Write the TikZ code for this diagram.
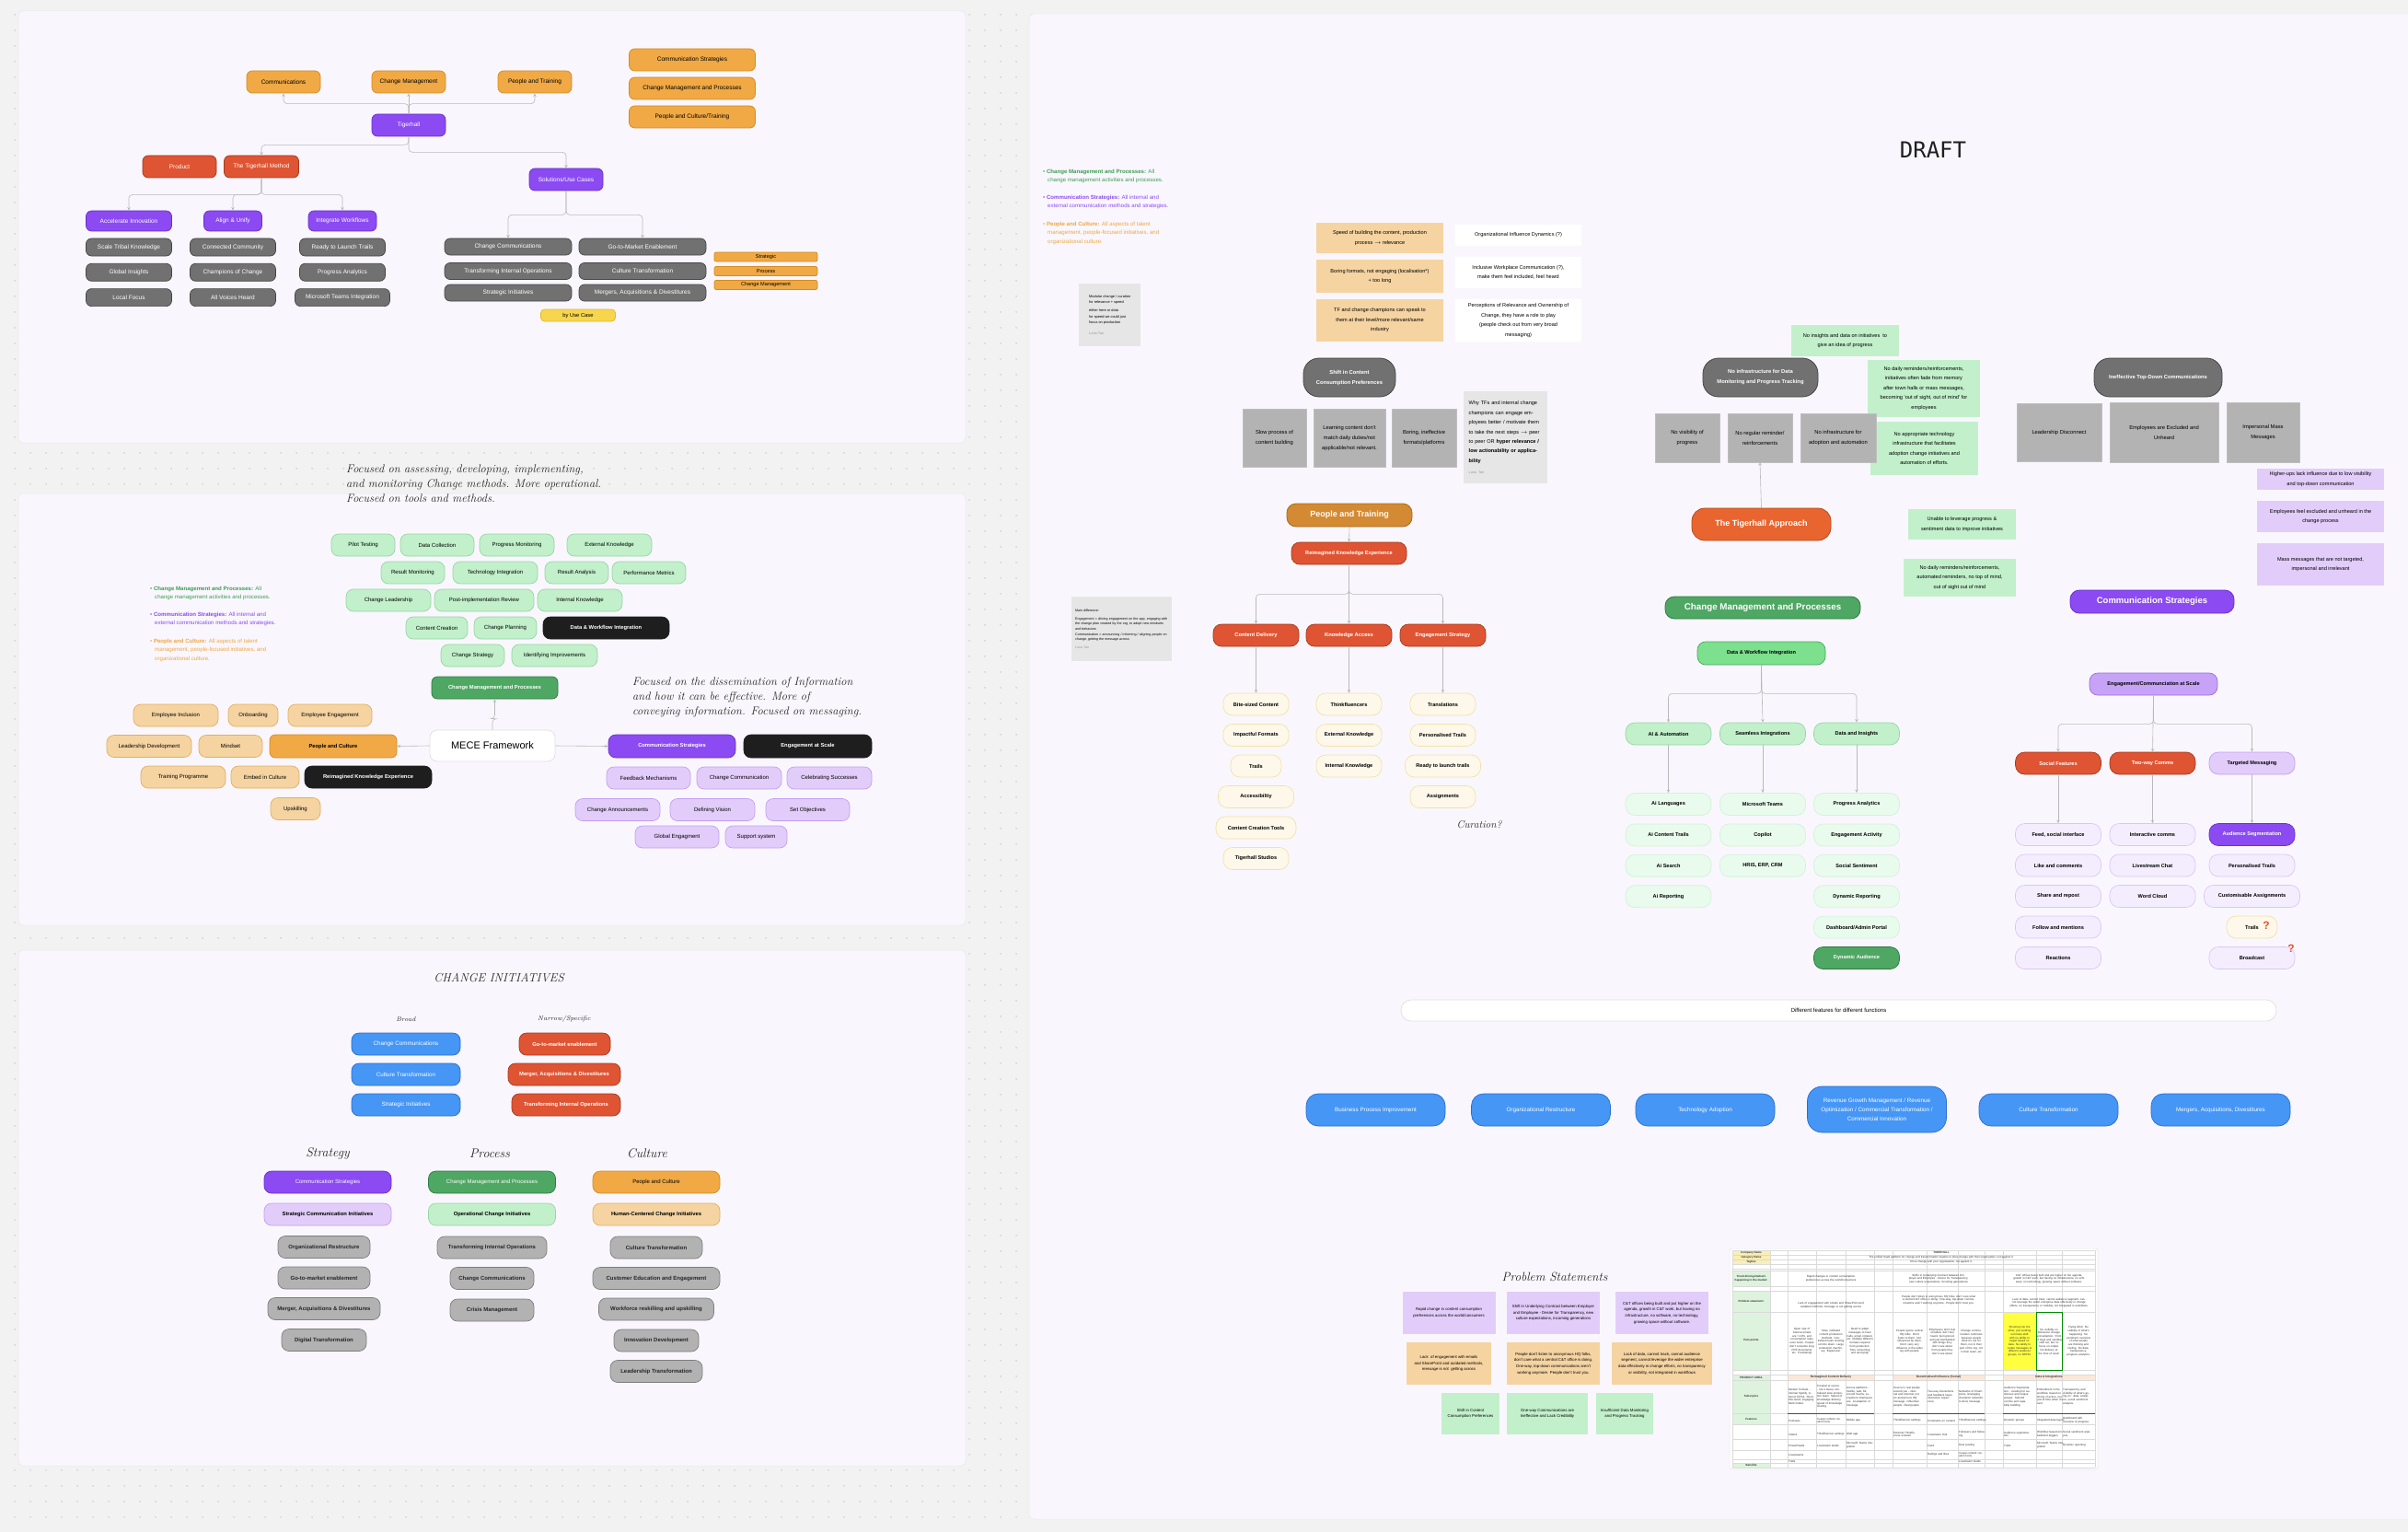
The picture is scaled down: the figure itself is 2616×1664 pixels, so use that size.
\documentclass[tikz,border=0pt]{standalone}
\usepackage{fontspec}
\setsansfont{Liberation Sans}
\setmonofont{DejaVu Sans Mono}
\renewcommand{\familydefault}{\sfdefault}
\usepackage{xcolor}
\usepackage{tikz}
\usetikzlibrary{arrows, positioning, patterns.meta}

\definecolor{bggray}{HTML}{F2F2F2}
\definecolor{dotgray}{HTML}{C2C2C2}
\definecolor{panelfill}{HTML}{F9F7FD}
\definecolor{panelline}{HTML}{EAE8EE}
\definecolor{orng}{HTML}{F0A944}
\definecolor{orngline}{HTML}{D58A22}
\definecolor{purp}{HTML}{8B4AF2}
\definecolor{purpline}{HTML}{6A2FCC}
\definecolor{redc}{HTML}{DF5432}
\definecolor{redline}{HTML}{A33A20}
\definecolor{darkg}{HTML}{717171}
\definecolor{darkgline}{HTML}{454545}
\definecolor{yell}{HTML}{F7D54C}
\definecolor{yellline}{HTML}{E2B833}
\definecolor{lgreen}{HTML}{C2F0CB}
\definecolor{lgreenline}{HTML}{96D6A4}
\definecolor{dgreen}{HTML}{4EA763}
\definecolor{dgreenline}{HTML}{2E7A43}
\definecolor{mgreen}{HTML}{7CE08F}
\definecolor{mgreenline}{HTML}{4BA45F}
\definecolor{pgreen}{HTML}{E9FBEC}
\definecolor{pgreenline}{HTML}{D3F2D9}
\definecolor{blackc}{HTML}{1E1E1E}
\definecolor{lorng}{HTML}{F5D4A2}
\definecolor{lorngline}{HTML}{E2AE60}
\definecolor{lpurp}{HTML}{E2CDFA}
\definecolor{lpurpline}{HTML}{C49DF4}
\definecolor{mpurp}{HTML}{C7A3F7}
\definecolor{mpurpline}{HTML}{9B6AE9}
\definecolor{ppurp}{HTML}{F4EDFE}
\definecolor{ppurpline}{HTML}{DCC6F8}
\definecolor{bluec}{HTML}{4596F5}
\definecolor{blueline}{HTML}{2B6CD1}
\definecolor{lgray}{HTML}{B2B2B2}
\definecolor{lgrayline}{HTML}{7E7E7E}
\definecolor{cream}{HTML}{FDF8EA}
\definecolor{creamline}{HTML}{F2E2A8}
\definecolor{brownor}{HTML}{D38A33}
\definecolor{brownline}{HTML}{A66A1E}
\definecolor{apprc}{HTML}{E8652F}
\definecolor{apprline}{HTML}{B74A1D}
\definecolor{notegray}{HTML}{E6E6E6}
\definecolor{sqgray}{HTML}{B3B3B3}
\definecolor{linkgray}{HTML}{B9B9B9}
\definecolor{txtgreen}{HTML}{3E9B53}
\definecolor{txtpurp}{HTML}{8B4AF2}
\definecolor{txtorng}{HTML}{EFA63E}
\definecolor{qred}{HTML}{E5502B}
\definecolor{tblline}{HTML}{DADADA}
\definecolor{tblgreen}{HTML}{DDF3DD}
\definecolor{tblyell}{HTML}{FBEEB5}
\definecolor{tblpeach}{HTML}{FCE7D6}
\definecolor{hiyell}{HTML}{FFFF40}

\newcommand{\handfont}{\rmfamily\itshape}

\tikzstyle{chip} = [rectangle, rounded corners=6pt, draw, line width=0.7pt, align=center, minimum height=24pt, inner sep=1pt, font=\fontsize{6.5}{8}\selectfont]
\tikzstyle{orangechip} = [chip, fill=orng, draw=orngline]
\tikzstyle{purplechip} = [chip, fill=purp, draw=purpline, text=white]
\tikzstyle{redchip} = [chip, fill=redc, draw=redline, text=white]
\tikzstyle{graychip} = [chip, fill=darkg, draw=darkgline, text=white, minimum height=19pt]
\tikzstyle{greenchip} = [chip, fill=lgreen, draw=lgreenline, rounded corners=8pt, font=\fontsize{6}{7.5}\selectfont]
\tikzstyle{darkgreenchip} = [chip, fill=dgreen, draw=dgreenline, text=white]
\tikzstyle{blackchip} = [chip, fill=blackc, draw=blackc, text=white, rounded corners=8pt, font=\bfseries\fontsize{5.8}{7}\selectfont]
\tikzstyle{peachchip} = [chip, fill=lorng, draw=lorngline, rounded corners=8pt, font=\fontsize{6}{7.5}\selectfont]
\tikzstyle{lilacchip} = [chip, fill=lpurp, draw=lpurpline, rounded corners=8pt, font=\fontsize{6}{7.5}\selectfont]
\tikzstyle{bluechip} = [chip, fill=bluec, draw=blueline, text=white, rounded corners=8pt]
\tikzstyle{silverchip} = [chip, fill=lgray, draw=lgrayline, rounded corners=8pt, font=\bfseries\fontsize{6}{7.5}\selectfont, text=black!85]
\tikzstyle{pill} = [chip, rounded corners=10pt, font=\bfseries\fontsize{5.6}{7}\selectfont, minimum width=93pt]
\tikzstyle{creampill} = [pill, fill=cream, draw=creamline, minimum width=71pt]
\tikzstyle{mintpill} = [pill, fill=pgreen, draw=pgreenline]
\tikzstyle{lilacpill} = [pill, fill=ppurp, draw=ppurpline]
\tikzstyle{problem} = [rectangle, rounded corners=17pt, draw=darkgline, fill=darkg, line width=0.8pt, text=white, align=center, minimum height=42pt, font=\bfseries\fontsize{5.8}{11}\selectfont]
\tikzstyle{cause} = [rectangle, fill=sqgray, draw=sqgray!85!white, align=center, minimum height=63pt, font=\fontsize{5.8}{11}\selectfont, inner sep=2pt]
\tikzstyle{sticky} = [rectangle, inner sep=2pt, align=center, font=\fontsize{5.6}{10.5}\selectfont]
\tikzstyle{memo} = [rectangle, fill=notegray, anchor=north west, align=left, inner sep=4pt]
\tikzstyle{headline} = [rectangle, draw, line width=0.8pt, rounded corners=10pt, text=white, align=center, minimum height=25pt, font=\bfseries\fontsize{9.5}{11}\selectfont]
\tikzstyle{statement} = [rectangle, align=center, inner sep=2pt, font=\fontsize{4.3}{6.6}\selectfont]
\tikzstyle{scribble} = [inner sep=0pt, align=left, text=black!85]
\tikzstyle{legend} = [anchor=north west, align=left, inner sep=0pt, font=\fontsize{6.1}{9.7}\selectfont]
\tikzstyle{cell} = [inner sep=0pt, align=center, font=\fontsize{3}{3.7}\selectfont, text=black!80]
\tikzstyle{link} = [->, >=stealth, draw=linkgray, line width=0.6pt, rounded corners=4pt]

\begin{document}
\begin{tikzpicture}[x=1pt, y=-1pt]
\useasboundingbox (0,0) rectangle (2616,1664);
% canvas with dot grid
\fill[bggray] (0,0) rectangle (2616,1664);
\fill[pattern={Dots[distance=17pt, radius=0.8pt]}, pattern color=dotgray] (0,0) rectangle (2616,1664);
\filldraw[fill=panelfill, draw=panelline, line width=0.5pt, rounded corners=5pt] (20,12) rectangle (1049,481);
\filldraw[fill=panelfill, draw=panelline, line width=0.5pt, rounded corners=5pt] (20,536) rectangle (1049,1005);
\filldraw[fill=panelfill, draw=panelline, line width=0.5pt, rounded corners=5pt] (20,1032) rectangle (1049,1592);
\filldraw[fill=panelfill, draw=panelline, line width=0.5pt, rounded corners=5pt] (1118,15) rectangle (2640,1650);

% ---------- Tigerhall tree ----------
\node[orangechip, minimum width=80] (comms) at (308,89) {Communications};
\node[orangechip, minimum width=80] (changemgmt) at (444,89) {Change Management};
\node[orangechip, minimum width=80] (peopletraining) at (581,89) {People and Training};
\node[orangechip, minimum width=137] (keycomm) at (752,65) {Communication Strategies};
\node[orangechip, minimum width=137] (keycmp) at (752,96) {Change Management and Processes};
\node[orangechip, minimum width=137] (keypct) at (752,127) {People and Culture/Training};
\node[purplechip, minimum width=80] (tigerhall) at (444,136) {Tigerhall};
\node[redchip, minimum width=80] (product) at (195,181) {Product};
\node[redchip, minimum width=81] (method) at (284,181) {The Tigerhall Method};
\node[purplechip, minimum width=80] (usecases) at (615,195) {Solutions/Use Cases};
\node[purplechip, minimum width=93, minimum height=22] (accel) at (140,240) {Accelerate Innovation};
\node[purplechip, minimum width=63, minimum height=22] (alignunify) at (253,240) {Align \& Unify};
\node[purplechip, minimum width=74, minimum height=22] (integrate) at (372,240) {Integrate Workflows};

\foreach \t [count=\i] in {Scale Tribal Knowledge, Global Insights, Local Focus}
  \node[graychip, minimum width=93] (accel\i) at (140,{268.5+27.3*(\i-1)}) {\t};
\foreach \t [count=\i] in {Connected Community, Champions of Change, All Voices Heard}
  \node[graychip, minimum width=93] (unify\i) at (253,{268.5+27.3*(\i-1)}) {\t};
\node[graychip, minimum width=93] (launchtrails) at (372,268.5) {Ready to Launch Trails};
\node[graychip, minimum width=93] (progress) at (372,295.8) {Progress Analytics};
\node[graychip, minimum width=103] (msteams) at (372,323.1) {Microsoft Teams Integration};

\node[graychip, minimum width=138, minimum height=18] (ucchange) at (552,268) {Change Communications};
\node[graychip, minimum width=138, minimum height=18] (uctransform) at (552,294.5) {Transforming Internal Operations};
\node[graychip, minimum width=138, minimum height=18] (ucstrategic) at (552,318) {Strategic Initiatives};
\node[graychip, minimum width=138, minimum height=18] (ucgtm) at (698,268) {Go-to-Market Enablement};
\node[graychip, minimum width=138, minimum height=18] (ucculture) at (698,294.5) {Culture Transformation};
\node[graychip, minimum width=138, minimum height=18] (ucmerger) at (698,318) {Mergers, Acquisitions \& Divestitures};
\node[orangechip, rounded corners=2pt, minimum width=112, minimum height=10, font=\fontsize{5.6}{6}\selectfont] (tagstrategic) at (832,279) {Strategic};
\node[orangechip, rounded corners=2pt, minimum width=112, minimum height=10, font=\fontsize{5.6}{6}\selectfont] (tagprocess) at (832,294.5) {Process};
\node[orangechip, rounded corners=2pt, minimum width=112, minimum height=10, font=\fontsize{5.6}{6}\selectfont] (tagchange) at (832,309.5) {Change Management};
\node[chip, fill=yell, draw=yellline, rounded corners=4pt, minimum width=81, minimum height=13, font=\fontsize{5.8}{7}\selectfont] (byusecase) at (628,342.5) {by Use Case};

\draw[link] (tigerhall.north) -- ++(0,-11) -| (comms.south);
\draw[link] (tigerhall.north) -- ++(0,-11) -| (peopletraining.south);
\draw[link] (tigerhall.north) -- (changemgmt.south);
\draw[link] (tigerhall.south) -- ++(0,9) -| (method.north);
\draw[link] (tigerhall.south) -- ++(0,17) -| (usecases.north);
\draw[link] (method.south) -- ++(0,18) -| (accel.north);
\draw[link] (method.south) -- ++(0,18) -| (alignunify.north);
\draw[link] (method.south) -- ++(0,18) -| (integrate.north);
\draw[link] (usecases.south) -- ++(0,26) -| (ucchange.north);
\draw[link] (usecases.south) -- ++(0,26) -| (ucgtm.north);

% ---------- MECE framework ----------
\node[scribble, anchor=north west, font=\handfont\fontsize{12.5}{16}\selectfont] (opsnote) at (376,505) {Focused on assessing, developing, implementing,\\and monitoring Change methods. More operational.\\Focused on tools and methods.};
\node[scribble, anchor=north west, font=\handfont\fontsize{12.5}{16}\selectfont] (msgnote) at (687,735) {Focused on the dissemination of Information\\and how it can be effective. More of\\conveying information. Focused on messaging.};

\node[greenchip, minimum width=69] (pilot) at (394.5,592) {Pilot Testing};
\node[greenchip, minimum width=80] (datacoll) at (475,592) {Data Collection};
\node[greenchip, minimum width=81] (progmon) at (561.5,592) {Progress Monitoring};
\node[greenchip, minimum width=92] (extknow) at (662,592) {External Knowledge};
\node[greenchip, minimum width=69] (resmon) at (448.5,622) {Result Monitoring};
\node[greenchip, minimum width=92] (techint) at (538,622) {Technology Integration};
\node[greenchip, minimum width=69] (resanal) at (626.5,622) {Result Analysis};
\node[greenchip, minimum width=80] (perfmet) at (705,622) {Performance Metrics};
\node[greenchip, minimum width=92] (changelead) at (422,652) {Change Leadership};
\node[greenchip, minimum width=108] (postimpl) at (526,652) {Post-implementation Review};
\node[greenchip, minimum width=92] (intknow) at (630,652) {Internal Knowledge};
\node[greenchip, minimum width=67] (contcreate) at (474.5,682) {Content Creation};
\node[greenchip, minimum width=68] (changeplan) at (549,682) {Change Planning};
\node[blackchip, minimum width=137] (dataflow) at (658.5,682) {Data \& Workflow Integration};
\node[greenchip, minimum width=69] (changestrat) at (513.5,712) {Change Strategy};
\node[greenchip, minimum width=93] (identify) at (602.5,712) {Identifying Improvements};

\node[legend, text=txtgreen] (legcmp) at (163,636.5) {\textbullet\ \textbf{Change Management and Processes:} All\\\hspace*{5pt}change management activities and processes.};
\node[legend, text=txtpurp] (legcs) at (163,664.5) {\textbullet\ \textbf{Communication Strategies:} All internal and\\\hspace*{5pt}external communication methods and strategies.};
\node[legend, text=txtorng] (legpc) at (163,693.5) {\textbullet\ \textbf{People and Culture:} All aspects of talent\\\hspace*{5pt}management, people-focused initiatives, and\\\hspace*{5pt}organizational culture.};

\node[darkgreenchip, minimum width=137, font=\bfseries\fontsize{5.8}{7}\selectfont] (cmpgreen) at (537.5,747) {Change Management and Processes};
\node[chip, fill=white, draw=black!12, rounded corners=8pt, minimum width=136, minimum height=34, font=\fontsize{11}{13}\selectfont] (mece) at (535,810) {MECE Framework};
\node[orangechip, minimum width=138, minimum height=25, font=\bfseries\fontsize{5.8}{7}\selectfont] (pcult) at (362,810.5) {People and Culture};
\node[purplechip, minimum width=138, minimum height=25, rounded corners=8pt, font=\bfseries\fontsize{5.8}{7}\selectfont] (cstrat) at (730,810.5) {Communication Strategies};
\node[blackchip, minimum width=139, minimum height=25] (engscale) at (877.5,810.5) {Engagement at Scale};

\node[peachchip, minimum width=92] (inclusion) at (191,777) {Employee Inclusion};
\node[peachchip, minimum width=54] (onboard) at (275,777) {Onboarding};
\node[peachchip, minimum width=91] (engage) at (358.5,777) {Employee Engagement};
\node[peachchip, minimum width=92] (leaddev) at (162,810.5) {Leadership Development};
\node[peachchip, minimum width=69] (mindset) at (250.5,810.5) {Mindset};
\node[peachchip, minimum width=92] (training) at (199,844) {Training Programme};
\node[peachchip, minimum width=74] (embed) at (288,844) {Embed in Culture};
\node[blackchip, minimum width=138] (rkeblack) at (400,844) {Reimagined Knowledge Experience};
\node[peachchip, minimum width=54] (upskill) at (321,878.5) {Upskilling};

\node[lilacchip, minimum width=91] (feedback) at (704.5,845) {Feedback Mechanisms};
\node[lilacchip, minimum width=92] (changecomm) at (803,845) {Change Communication};
\node[lilacchip, minimum width=92] (celebrate) at (901,845) {Celebrating Successes};
\node[lilacchip, minimum width=92] (announce) at (671,879.5) {Change Announcements};
\node[lilacchip, minimum width=92] (vision) at (774,879.5) {Defining Vision};
\node[lilacchip, minimum width=91] (objectives) at (877.5,879.5) {Set Objectives};
\node[lilacchip, minimum width=91] (globaleng) at (735.5,909) {Global Engagment};
\node[lilacchip, minimum width=67] (support) at (821.5,909) {Support system};

\draw[link] (mece.north) -- ++(0,-12) -| (cmpgreen.south);
\draw[link] (mece.west) -- (pcult.east);
\draw[link] (mece.east) -- (cstrat.west);

% ---------- Change initiatives ----------
\node[scribble, align=center, font=\handfont\fontsize{13}{15}\selectfont] (cititle) at (542,1062) {CHANGE INITIATIVES};
\node[scribble, align=center, font=\handfont\fontsize{7}{8}\selectfont] (broad) at (441,1107) {Broad};
\node[scribble, align=center, font=\handfont\fontsize{7}{8}\selectfont] (narrow) at (613,1107) {Narrow/Specific};
\foreach \t [count=\i] in {Change Communications, Culture Transformation, Strategic Initiatives}
  \node[bluechip, minimum width=118, font=\fontsize{6.3}{7.5}\selectfont] (broad\i) at (441,{1134+33*(\i-1)}) {\t};
\node[redchip, rounded corners=8pt, minimum width=99, font=\bfseries\fontsize{5.8}{7}\selectfont] (gtmred) at (613.5,1134) {Go-to-market enablement};
\node[redchip, rounded corners=8pt, minimum width=122, font=\bfseries\fontsize{5.8}{7}\selectfont] (mergerred) at (613,1167) {Merger, Acquisitions \& Divestitures};
\node[redchip, rounded corners=8pt, minimum width=118, font=\bfseries\fontsize{5.8}{7}\selectfont] (transred) at (615,1200) {Transforming Internal Operations};

\node[scribble, align=center, font=\handfont\fontsize{14}{16}\selectfont] (hstrategy) at (356,1253) {Strategy};
\node[scribble, align=center, font=\handfont\fontsize{14}{16}\selectfont] (hprocess) at (532,1253) {Process};
\node[scribble, align=center, font=\handfont\fontsize{14}{16}\selectfont] (hculture) at (703,1253) {Culture};
\node[purplechip, minimum width=138, rounded corners=8pt, font=\fontsize{6}{7}\selectfont] (cistrat) at (356,1284) {Communication Strategies};
\node[darkgreenchip, minimum width=138, rounded corners=8pt, font=\fontsize{6}{7}\selectfont] (ciproc) at (534.5,1284) {Change Management and Processes};
\node[orangechip, minimum width=138, rounded corners=8pt, font=\fontsize{6}{7}\selectfont] (cicult) at (713,1284) {People and Culture};
\node[lilacchip, minimum width=138, font=\bfseries\fontsize{5.8}{7}\selectfont] (cistrat2) at (356,1319) {Strategic Communication Initiatives};
\node[greenchip, minimum width=138, font=\bfseries\fontsize{5.8}{7}\selectfont] (ciproc2) at (534.5,1319) {Operational Change Initiatives};
\node[peachchip, minimum width=138, font=\bfseries\fontsize{5.8}{7}\selectfont] (cicult2) at (713,1319) {Human-Centered Change Initiatives};

\node[silverchip, minimum width=100] (orgrestr) at (352,1354.5) {Organizational Restructure};
\node[silverchip, minimum width=100] (gtmgray) at (352,1388) {Go-to-market enablement};
\node[silverchip, minimum width=122] (mergergray) at (352,1421.5) {Merger, Acquisitions \& Divestitures};
\node[silverchip, minimum width=92] (digital) at (352,1455.5) {Digital Transformation};
\node[silverchip, minimum width=119] (transgray) at (534.5,1355) {Transforming Internal Operations};
\node[silverchip, minimum width=91] (ccgray) at (534.5,1388.5) {Change Communications};
\node[silverchip, minimum width=91] (crisis) at (534.5,1423) {Crisis Management};
\node[silverchip, minimum width=100] (culturegray) at (713,1355) {Culture Transformation};
\node[silverchip, minimum width=138] (custedu) at (713,1388.5) {Customer Education and Engagement};
\node[silverchip, minimum width=125] (reskill) at (713,1422) {Workforce reskilling and upskilling};
\node[silverchip, minimum width=92] (innov) at (713,1456) {Innovation Development};
\node[silverchip, minimum width=100] (leadtrans) at (713,1489.5) {Leadership Transformation};

% ---------- draft board ----------
\node[font=\ttfamily\fontsize{24}{26}\selectfont, text=black!88] (draft) at (2100,163) {DRAFT};

\node[legend, text=txtgreen] (keycmp2) at (1133,183.5) {\textbullet\ \textbf{Change Management and Processes:} All\\\hspace*{5pt}change management activities and processes.};
\node[legend, text=txtpurp] (keycs2) at (1133,211.5) {\textbullet\ \textbf{Communication Strategies:} All internal and\\\hspace*{5pt}external communication methods and strategies.};
\node[legend, text=txtorng] (keypc2) at (1133,240.5) {\textbullet\ \textbf{People and Culture:} All aspects of talent\\\hspace*{5pt}management, people-focused initiatives, and\\\hspace*{5pt}organizational culture.};

\node[memo, minimum width=67, minimum height=68, font=\fontsize{3.9}{6.2}\selectfont] (memomodular) at (1172,308) {Modular change / curation\\for relevance + speed\\[3pt]either here or data\\for speed we could just\\focus on production\\[6pt]{\color{black!40}Luna Tan}};
\node[memo, minimum width=109, minimum height=70, font=\fontsize{3.6}{5.6}\selectfont, text width=101] (memodiff) at (1164,648) {Main difference:\\[3pt]Engagement = driving engagement on the app, engaging with the change plan created by the org, to adopt new mindsets and behaviors\\Communication = announcing / informing / aligning people on change, getting the message across\\[3pt]{\color{black!40}Luna Tan}};

\node[sticky, fill=lorng, minimum width=138, minimum height=33] (speed) at (1499,258.5) {Speed of building the content, production\\process $\rightarrow$ relevance};
\node[sticky, fill=lorng, minimum width=138, minimum height=36] (boring) at (1499,300) {Boring formats, not engaging (localisation*)\\+ too long};
\node[sticky, fill=lorng, minimum width=138, minimum height=46] (champions) at (1499,348) {TF and change champions can speak to\\them at their level/more relevant/same\\industry};
\node[sticky, fill=white, minimum width=137, minimum height=23] (influence) at (1649.5,255.5) {Organizational Influence Dynamics (?)};
\node[sticky, fill=white, minimum width=137, minimum height=34] (inclusive) at (1649.5,296) {Inclusive Workplace Communication (?),\\make them feel included, feel heard};
\node[sticky, fill=white, minimum width=137, minimum height=46] (ownership) at (1649.5,348) {Perceptions of Relevance and Ownership of\\Change, they have a role to play\\(people check out from very broad\\messaging)};

\node[problem, minimum width=100] (shift) at (1466,410) {Shift in Content\\Consumption Preferences};
\node[cause, minimum width=69] (slow) at (1384.5,475.5) {Slow process of\\content building};
\node[cause, minimum width=78] (mismatch) at (1466,475.5) {Learning content don't\\match daily duties/not\\applicable/not relevant.};
\node[cause, minimum width=70] (ineffective) at (1547,475.5) {Boring, ineffective\\formats/platforms};
\node[memo, minimum width=91, minimum height=100, text width=80, font=\fontsize{5.6}{10.4}\selectfont] (memowhy) at (1590,425) {Why TFs and internal change champions can engage employees better / motivate them to take the next steps $\rightarrow$ peer to peer OR \textbf{hyper relevance / low actionability or applicability}\\[2pt]{\fontsize{3.8}{5}\selectfont\color{black!40}Luna Tan}};

\node[headline, fill=brownor, draw=brownline, minimum width=136, font=\bfseries\fontsize{9}{11}\selectfont] (ptraining) at (1466,559.5) {People and Training};
\node[redchip, rounded corners=9pt, minimum width=125, font=\bfseries\fontsize{5.6}{7}\selectfont] (rke) at (1465.5,601) {Reimagined Knowledge Experience};
\node[redchip, rounded corners=9pt, minimum width=93, font=\bfseries\fontsize{5.8}{7}\selectfont] (contdel) at (1364.5,690) {Content Delivery};
\node[redchip, rounded corners=9pt, minimum width=93, font=\bfseries\fontsize{5.8}{7}\selectfont] (knowacc) at (1465.5,690) {Knowledge Access};
\node[redchip, rounded corners=9pt, minimum width=93, font=\bfseries\fontsize{5.8}{7}\selectfont] (engstrat) at (1567.5,690) {Engagement Strategy};
\foreach \t/\w [count=\i] in {Bite-sized Content/71, Impactful Formats/71, Trails/55, Accessibility/82, Content Creation Tools/87, Tigerhall Studios/71}
  \node[creampill, minimum width=\w] (deliv\i) at (1364.5,{765+33.5*(\i-1)}) {\t};
\foreach \t [count=\i] in {Thinkfluencers, External Knowledge, Internal Knowledge}
  \node[creampill] (access\i) at (1465.5,{765+33.5*(\i-1)}) {\t};
\foreach \t/\w [count=\i] in {Translations/71, Personalised Trails/71, Ready to launch trails/82, Assignments/71}
  \node[creampill, minimum width=\w] (strat\i) at (1567.5,{765+33.5*(\i-1)}) {\t};
\node[scribble, font=\handfont\fontsize{11.5}{13}\selectfont] (curation) at (1607,896) {Curation?};

\draw[link] (ptraining.south) -- (rke.north);
\draw[link] (rke.south) -- ++(0,32) -| (contdel.north);
\draw[link] (rke.south) -- (knowacc.north);
\draw[link] (rke.south) -- ++(0,32) -| (engstrat.north);
\draw[link] (contdel.south) -- (deliv1.north);
\draw[link] (knowacc.south) -- (access1.north);
\draw[link] (engstrat.south) -- (strat1.north);

% data monitoring column
\node[sticky, fill=lgreen, minimum width=117, minimum height=34] (noinsight) at (2004.5,370) {No insights and data on initiatives \ to\\give an idea of progress};
\node[sticky, fill=lgreen, minimum width=122, minimum height=62] (nodaily) at (2090,422) {No daily reminders/reinforcements,\\initiatives often fade from memory\\after town halls or mass messages,\\becoming `out of sight, out of mind' for\\employees};
\node[sticky, fill=lgreen, minimum width=117, minimum height=58] (notech) at (2090.5,487) {No appropriate technology\\infrastructure that facilitates\\adoption change initiatives and\\automation of efforts.};
\node[sticky, fill=lgreen, minimum width=117, minimum height=33] (noleverage) at (2131.5,569.5) {Unable to leverage progress \&\\sentiment data to improve initiatives};
\node[sticky, fill=lgreen, minimum width=122, minimum height=41] (noremind) at (2129,627.5) {No daily reminders/reinforcements,\\automated reminders, no top of mind,\\out of sight out of mind};
\node[problem, minimum width=125] (noinfra) at (1912.5,410) {No infrastructure for Data\\Monitoring and Progress Tracking};
\node[cause, minimum width=70, minimum height=53] (novis) at (1833,475.5) {No visibility of\\progress};
\node[cause, minimum width=70, minimum height=53] (noreg) at (1912,475.5) {No regular reminder/\\reinforcements};
\node[cause, minimum width=82, minimum height=53] (noadopt) at (1997,475.5) {No infrastructure for\\adoption and automation};
\node[headline, fill=apprc, draw=apprline, minimum width=151, minimum height=35, rounded corners=14pt, font=\bfseries\fontsize{9}{11}\selectfont] (approach) at (1913.5,569.5) {The Tigerhall Approach};
\draw[link] (approach.north) -- (noreg.south);

\node[headline, fill=dgreen, draw=dgreenline, minimum width=212, minimum height=24, font=\bfseries\fontsize{9.8}{11}\selectfont] (cmpbig) at (1915,660) {Change Management and Processes};
\node[chip, fill=mgreen, draw=mgreenline, rounded corners=9pt, minimum width=139, minimum height=25, font=\bfseries\fontsize{5.6}{7}\selectfont] (dwi) at (1913.5,709.5) {Data \& Workflow Integration};
\node[pill, fill=lgreen, draw=lgreenline] (aiauto) at (1812.5,797) {AI \& Automation};
\node[pill, fill=lgreen, draw=lgreenline] (seamless) at (1915,797) {Seamless Integrations};
\node[pill, fill=lgreen, draw=lgreenline] (datains) at (2017,797) {Data and Insights};
\foreach \t [count=\i] in {Ai Languages, Ai Content Trails, Ai Search, Ai Reporting}
  \node[mintpill] (ai\i) at (1812.5,{873.5+33.4*(\i-1)}) {\t};
\foreach \t [count=\i] in {Microsoft Teams, Copilot, {HRIS, ERP, CRM}}
  \node[mintpill] (integ\i) at (1915,{873.5+33.4*(\i-1)}) {\t};
\foreach \t [count=\i] in {Progress Analytics, Engagement Activity, Social Sentiment, Dynamic Reporting, Dashboard/Admin Portal}
  \node[mintpill] (insight\i) at (2017,{873.5+33.4*(\i-1)}) {\t};
\node[pill, fill=dgreen, draw=dgreenline, text=white] (dynaud) at (2017,1040.5) {Dynamic Audience};
\draw[link] (dwi.south) -- ++(0,31) -| (aiauto.north);
\draw[link] (dwi.south) -- (seamless.north);
\draw[link] (dwi.south) -- ++(0,31) -| (datains.north);
\draw[link] (aiauto.south) -- (ai1.north);
\draw[link] (seamless.south) -- (integ1.north);
\draw[link] (datains.south) -- (insight1.north);

% communications column
\node[problem, minimum width=139] (topdown) at (2344.5,410) {Ineffective Top-Down Communications};
\node[cause, minimum width=92] (disconnect) at (2237,469.5) {Leadership Disconnect};
\node[cause, minimum width=118, minimum height=65] (excluded) at (2351,469.5) {Employees are Excluded and\\Unheard};
\node[cause, minimum width=79, minimum height=65] (impersonal) at (2458.5,469.5) {Impersonal Mass\\Messages};
\node[sticky, fill=lpurp, minimum width=138, minimum height=23] (higherups) at (2521,520.5) {Higher-ups lack influence due to low visibility\\and top-down communication};
\node[sticky, fill=lpurp, minimum width=138, minimum height=34] (feelexcl) at (2521,561) {Employees feel excluded and unheard in the\\change process};
\node[sticky, fill=lpurp, minimum width=138, minimum height=46] (massmsg) at (2521,613) {Mass messages that are not targeted,\\impersonal and irrelevant};

\node[headline, fill=purp, draw=purpline, minimum width=178, font=\bfseries\fontsize{9.5}{11}\selectfont] (csbig) at (2338,653.5) {Communication Strategies};
\node[chip, fill=mpurp, draw=mpurpline, rounded corners=9pt, minimum width=139, font=\bfseries\fontsize{5.6}{7}\selectfont] (ecs) at (2339.5,743) {Engagement/Communciation at Scale};
\node[pill, fill=redc, draw=redline, text=white] (social) at (2236,829) {Social Features};
\node[pill, fill=redc, draw=redline, text=white] (twoway) at (2338.5,829) {Two-way Comms};
\node[pill, fill=lpurp, draw=lpurpline] (targeted) at (2446.5,829) {Targeted Messaging};
\foreach \t [count=\i] in {{Feed, social interface}, Like and comments, Share and repost, Follow and mentions, Reactions}
  \node[lilacpill] (socialf\i) at (2236,{906.5+33.5*(\i-1)}) {\t};
\foreach \t [count=\i] in {Interactive comms, Livestream Chat, Word Cloud}
  \node[lilacpill] (twowayf\i) at (2338.5,{906.5+33.5*(\i-1)}) {\t};
\node[pill, fill=purp, draw=purpline, text=white] (segment) at (2446.5,906.5) {Audience Segmentation};
\node[lilacpill] (perstrails) at (2446.5,940) {Personalised Trails};
\node[lilacpill, minimum width=104] (custassign) at (2446.5,973.5) {Customisable Assignments};
\node[creampill, minimum width=55] (trailsq) at (2446.5,1007) {Trails};
\node[lilacpill] (broadcast) at (2446.5,1040.5) {Broadcast};
\node[text=qred, font=\bfseries\fontsize{12}{12}\selectfont, inner sep=0pt] (qmarka) at (2462,1005) {?};
\node[text=qred, font=\bfseries\fontsize{12}{12}\selectfont, inner sep=0pt] (qmarkb) at (2489,1030) {?};
\draw[link] (ecs.south) -- ++(0,31) -| (social.north);
\draw[link] (ecs.south) -- (twoway.north);
\draw[link] (ecs.south) -- ++(0,31) -| (targeted.north);
\draw[link] (social.south) -- (socialf1.north);
\draw[link] (twoway.south) -- (twowayf1.north);
\draw[link] (targeted.south) -- (segment.north);

% functions row
\node[chip, fill=white, draw=black!12, rounded corners=11pt, minimum width=951, minimum height=23, font=\fontsize{6}{7}\selectfont] (functions) at (1997.5,1097.5) {Different features for different functions};
\tikzstyle{fnchip} = [bluechip, rounded corners=13pt, minimum width=151, minimum height=35, font=\fontsize{6.3}{10}\selectfont]
\node[fnchip] (fnbpi) at (1494.5,1205.5) {Business Process Improvement};
\node[fnchip] (fnorg) at (1674,1205.5) {Organizational Restructure};
\node[fnchip] (fntech) at (1852.5,1205.5) {Technology Adoption};
\node[fnchip, minimum height=50, rounded corners=16pt] (fnrgm) at (2039,1205) {Revenue Growth Management / Revenue\\Optimization / Commercial Transformation /\\Commercial Innovation};
\node[fnchip] (fnculture) at (2225.5,1205.5) {Culture Transformation};
\node[fnchip] (fnmerger) at (2412.5,1205.5) {Mergers, Acquisitions, Divestitures};

% problem statements
\node[scribble, align=center, font=\handfont\fontsize{13.5}{15}\selectfont] (pstitle) at (1689,1387) {Problem Statements};
\node[statement, fill=lpurp, minimum width=101, minimum height=46] (psrapid) at (1574,1426) {Rapid change in content consumption\\preferences across the world/consumers};
\node[statement, fill=lpurp, minimum width=101, minimum height=46] (pscontract) at (1687.5,1426) {Shift in Underlying Contract between Employer\\and Employee - Desire for Transparency, new\\culture expectations, incoming generations};
\node[statement, fill=lpurp, minimum width=101, minimum height=46] (psoffices) at (1805.5,1426) {C\&T offices being built and put higher on the\\agenda, growth in C\&T work, but having no\\infrastructure, no software, no technology,\\growing space without software.};
\node[statement, fill=lorng, minimum width=92, minimum height=46] (pslack) at (1574,1481) {Lack \ of engagement with emails\\and SharePoint and outdated methods,\\message is not \ getting across};
\node[statement, fill=lorng, minimum width=101, minimum height=46] (pslisten) at (1687.5,1481) {People don't listen to anonymous HQ folks,\\don't care what a central C\&T office is doing.\\One-way, top-down communications aren't\\working anymore. People don't trust you.};
\node[statement, fill=lorng, minimum width=109, minimum height=46] (psdata) at (1805.5,1481) {Lack of data, cannot track, cannot audience\\segment, cannot leverage the wider enterprise\\data effectively in change efforts, no transparency\\or visibility, not integrated in workflows};
\node[statement, fill=lgreen, minimum width=63, minimum height=45] (psshift) at (1597.5,1535.5) {Shift in Content\\Consumption Preferences};
\node[statement, fill=lgreen, minimum width=88, minimum height=45] (psoneway) at (1681,1535.5) {One-way Communications are\\Ineffective and Lack Credibility};
\node[statement, fill=lgreen, minimum width=62, minimum height=45] (psmonitor) at (1765,1535.5) {Insufficient Data Monitoring\\and Progress Tracking};

% product table
\node[draw=black!10, fill=white, rounded corners=3pt, line width=0.5pt, minimum width=400, minimum height=240] (sheet) at (2079,1476) {};
\fill[tblyell] (1882,1358) rectangle (1923,1373);
\fill[tblgreen] (1882,1380) rectangle (1923,1397);
\fill[tblgreen] (1882,1402) rectangle (1923,1488);
\fill[tblgreen] (1882,1493) rectangle (1923,1547);
\fill[tblgreen] (1882,1589) rectangle (1923,1594);
\fill[tblpeach] (1942,1493) rectangle (2036,1499);
\fill[tblpeach] (2056,1493) rectangle (2156,1499);
\fill[tblpeach] (2176,1493) rectangle (2276,1499);
\fill[hiyell] (2176,1425) rectangle (2212,1488);
\foreach \yy in {1358,1363,1368,1373,1378,1380,1397,1402,1425,1488,1493,1499,1535,1547,1563,1575,1585,1589,1594}
  \draw[tblline, line width=0.3pt] (1882,\yy) -- (2276,\yy);
\foreach \xx in {1882,1923,1942,1973,2005,2036,2056,2093,2127,2156,2176,2212,2240,2276}
  \draw[tblline, line width=0.3pt] (\xx,1358) -- (\xx,1594);
\draw[black!70, line width=0.5pt] (1942,1535) -- (2036,1535) (2056,1535) -- (2156,1535) (2176,1535) -- (2276,1535);
\draw[green!55!black, line width=0.5pt] (2212,1425) rectangle (2240,1488);

\node[cell, font=\bfseries\fontsize{3}{4.8}\selectfont] (rowname) at (1902.5,1365.5) {Company Name\\Category Name\\Tagline};
\node[cell, font=\fontsize{3}{4.8}\selectfont] (rowhead) at (2109,1365.5) {\textbf{TIGERHALL}\\The unified SaaS platform for change and transformation leaders to drive change with their organisation, not against it.\\Drive change with your organisation, not against it.};
\foreach \ly/\lt [count=\i] in {1388.5/{Trend driving it/what's\\happening in the market:}, 1413/Problem statement:, 1456/Pain points, 1496/PRODUCT AREA, 1517/Sub-topics, 1541/Features, 1591.5/Benefits}
  \node[cell, font=\bfseries\fontsize{3}{3.8}\selectfont] (rowlabel\i) at (1902.5,\ly) {\lt};
\foreach \cx/\cy/\ct [count=\i] in {1989/1389/{Rapid changes in content consumption preferences across the world/consumers}, 2106/1389/{Shifts in Underlying Contract between Employer and Employee - Desire for Transparency, new culture expectations, incoming generations}, 2226/1389/{C\&T offices being built and put higher on the agenda, growth in C\&T work, but having no infrastructure, no software, no technology, growing space without software.}, 1989/1418/{Lack of engagement with emails and SharePoint and outdated methods, message is not getting across}, 2106/1412/{People don't listen to anonymous HQ folks, don't care what a central C\&T office is doing. One-way, top-down communications aren't working anymore. People don't trust you.}, 2226/1415/{Lack of data, cannot track, cannot audience segment, cannot leverage the wider enterprise data effectively in change efforts, no transparency or visibility, not integrated in workflows.}}
  \node[cell, text width=90pt] (trend\i) at (\cx,\cy) {\ct};
\foreach \cx/\ct [count=\i] in {1957.5/{Open rate of internal emails are 7-10\%, and consumption rates even lower. People don't consume long PDF documents etc. Frustrating!}, 1989/{Slow, outdated content production methods. Centralised team slowing comms down. Large production machinery. Expensive!}, 2020.5/{Need to adapt messages to town halls, email, intranet, etc. Multiple different formats required from production. Time consuming and annoying!}, 2074.5/{People ignore central HQ folks. Don't listen to them. Not influenced by them. Don't carry any influence in the wider org with people.}, 2110/{Employees don't feel included, don't feel heard, feel ignored and just bombarded with things they don't care about from people they don't care about}, 2141.5/{Change communication continues because people think it's not for them, not in their part of the org, not in their team, etc}, 2194/{Shouting into the ether, just sending out mass staff with no ability to target based on data. No ability to curate messages to different audience groups, no WIIFM.}, 2226/{No visibility on behaviour change and adoption. Point of input and sending stuff out, but no focus on output. No delivery at the time of need.}, 2258/{Flying blind. No visibility of what's happening. No sentiment overview of what people are thinking and feeling. No data, transparency, progress analytics.}}
  \node[cell, text width=29pt] (pain\i) at (\cx,1457) {\ct};
\node[cell, font=\bfseries\fontsize{3.2}{4}\selectfont] (areacontent) at (1989,1496) {Reimagined Content Delivery};
\node[cell, font=\bfseries\fontsize{3.2}{4}\selectfont] (areasocial) at (2106,1496) {Decentralised Influence (Social)};
\node[cell, font=\bfseries\fontsize{3.2}{4}\selectfont] (areadata) at (2226,1496) {Data \& Integrations};
\foreach \cx/\ct [count=\i] in {1943/{Modern formats - internal Spotify, internal TikTok. Short, bite-sized, engaging. Multi modal.}, 1974/{Created at source - not a heavy centralised slow production team. Speed of knowledge delivery, speed of knowledge sharing.}, 2006/{Across platforms - mobile, web, Microsoft Teams, everywhere employees are. AI adaption of message.}, 2057/{Source is real people around you - internal and external, not an anonymous HQ message. Influential people. Real people.}, 2094/{Two-way interactions and feedback loops. Interactive experience.}, 2128/{Networks of Champions, leveraging champion networks to drive message}, 2177/{Audience Segmentation - curating for audiences and unique groups. Tailored comms and capability building.}, 2213/{Embedment in the workflow, based on timing of action, not just at time when it's sent}, 2241/{Transparency and visibility of what's going on - data, analytics, social sentiment analysis.}}
  \node[cell, anchor=west, align=left, text width=29pt] (subtopic\i) at (\cx,1517) {\ct};
\foreach \cx/\cy/\ct [count=\i] in {1943/1543/Podcasts, 1974/1543/{In-app content creation tools}, 2006/1543/Mobile app, 2057/1543/Thinkfluencer settings, 2094/1543/Comments on content, 2128/1543/Thinkfluencer settings, 2177/1543/Dynamic groups, 2213/1543/Integrated data layers, 2241/1543/{Dashboard with overview of progress}, 1943/1558/Videos, 1974/1558/Thinkfluencer settings, 2006/1558/Web app, 2057/1558/{External Thinkfluencer network}, 2094/1558/Livestream chat, 2128/1558/Followers and following, 2177/1558/Audience segmentation, 2213/1558/{Workflow based embedment triggers}, 2241/1558/Social sentiment analysis, 1943/1570/PowerReads, 1974/1570/Livestream studio, 2006/1570/{Microsoft Teams integration}, 2094/1570/Feed, 2128/1570/Reel posting, 2177/1570/Trails, 2213/1570/{Microsoft Teams integration}, 2241/1570/Dynamic reporting, 1943/1580/Livestreams, 2094/1580/Ratings and likes, 2128/1580/{In-app content creation tools}, 1943/1587/Trails, 2128/1587/Livestream studio}
  \node[cell, anchor=west, align=left, text width=30pt] (feature\i) at (\cx,\cy) {\ct};
\end{tikzpicture}
\end{document}
